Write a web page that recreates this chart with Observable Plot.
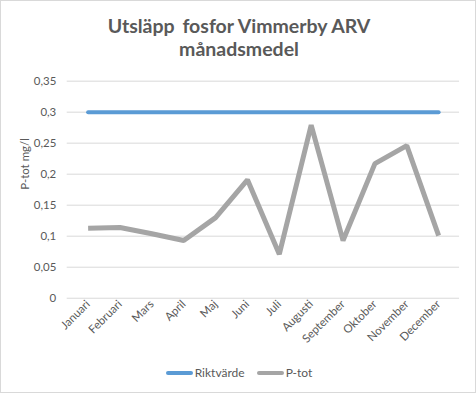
<!DOCTYPE html>
<html>
<head>
<meta charset="utf-8">
<script src="https://cdn.jsdelivr.net/npm/d3@7"></script>
<script src="https://cdn.jsdelivr.net/npm/@observablehq/plot@0.6"></script>
<style>
  html, body { margin: 0; padding: 0; background: #fff; }
  #chart { position: relative; width: 476px; height: 393px; box-sizing: border-box; border: 1px solid #d9d9d9; overflow: hidden; font-family: Lato, "Open Sans", sans-serif; }
  #chart svg { position: absolute; left: -1px; top: -1px; }
  .title { position: absolute; left: 0; width: 476px; text-align: center; font-weight: bold; font-size: 19.5px; color: #595959; }
  #legend { position: absolute; top: 364px; left: 0; width: 476px; display: flex; justify-content: center; gap: 12px; font-size: 12px; color: #595959; }
  .li { display: flex; align-items: center; }
  .sw { display: inline-block; width: 27px; height: 4px; margin-right: 2px; border-radius: 2px; }
</style>
</head>
<body>
<div id="chart">
  <div class="title" style="top:13px;">Utsläpp<span style="margin-left:3px"> </span>fosfor Vimmerby ARV</div>
  <div class="title" style="top:36px;">månadsmedel</div>
  <div id="legend">
    <span class="li"><span class="sw" style="background:#5b9bd5"></span>Riktvärde</span>
    <span class="li"><span class="sw" style="background:#a5a5a5"></span>P-tot</span>
  </div>
</div>
<script>
const months = ["Januari","Februari","Mars","April","Maj","Juni","Juli","Augusti","September","Oktober","November","December"];
const ptot = [0.113, 0.114, 0.104, 0.093, 0.130, 0.191, 0.071, 0.279, 0.093, 0.217, 0.246, 0.101];
const riktvarde = [0.3, 0.3, 0.3, 0.3, 0.3, 0.3, 0.3, 0.3, 0.3, 0.3, 0.3, 0.3];
const yTicks = [0, 0.05, 0.1, 0.15, 0.2, 0.25, 0.3, 0.35];

const ptotData = months.map((m, i) => ({month: m, value: ptot[i]}));
const riktData = months.map((m, i) => ({month: m, value: riktvarde[i]}));

const fmt = v => String(+v.toFixed(2)).replace(".", ",");

const plot = Plot.plot({
  width: 476,
  height: 393,
  marginTop: 81,
  marginBottom: 94,
  marginLeft: 67,
  marginRight: 15,
  style: { fontFamily: "Lato, 'Open Sans', sans-serif", fontSize: "11px", color: "#595959", background: "transparent" },
  x: { type: "point", domain: months, padding: 0.5, label: null },
  y: { domain: [0, 0.35], ticks: yTicks, label: null },
  marks: [
    Plot.gridY(yTicks, { stroke: "#d9d9d9", strokeOpacity: 1, strokeWidth: 1 }),
    Plot.axisY(yTicks, { tickSize: 0, tickPadding: 11, tickFormat: fmt, fill: "#595959", fontSize: 11.5, label: null }),
    Plot.axisX({ tickSize: 0, tickPadding: 4, tickRotate: -45, fill: "#595959", fontSize: 11.5, label: null }),
    Plot.text(["P-tot mg/l"], { frameAnchor: "left", dx: -42, rotate: -90, fill: "#595959", fontSize: 11.5 }),
    Plot.line(riktData, { x: "month", y: "value", stroke: "#5b9bd5", strokeWidth: 4, strokeLinecap: "round" }),
    Plot.line(ptotData, { x: "month", y: "value", stroke: "#a5a5a5", strokeWidth: 5, strokeLinejoin: "miter", strokeLinecap: "butt" })
  ]
});
document.getElementById("chart").appendChild(plot);
</script>
</body>
</html>
